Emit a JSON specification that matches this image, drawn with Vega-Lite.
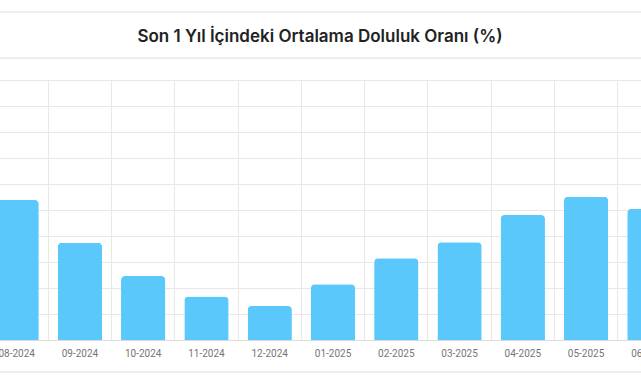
{
  "$schema": "https://vega.github.io/schema/vega-lite/v6.json",
  "width": 696,
  "height": 260,
  "autosize": "none",
  "padding": {"left": -15, "top": 80, "right": -40, "bottom": 40},
  "background": "#ffffff",
  "title": {
    "text": "Son 1 Yıl İçindeki Ortalama Doluluk Oranı (%)",
    "font": "Inter",
    "fontSize": 17,
    "fontWeight": 600,
    "color": "#222222",
    "anchor": "middle",
    "dx": -13,
    "baseline": "alphabetic",
    "offset": -48
  },
  "config": {
    "view": {"stroke": null},
    "axis": {"gridColor": "#e8e8e8", "gridWidth": 1}
  },
  "data": {
    "values": [
      {"month": "08-2024", "rate": 53.8},
      {"month": "09-2024", "rate": 37.4},
      {"month": "10-2024", "rate": 24.6},
      {"month": "11-2024", "rate": 16.7},
      {"month": "12-2024", "rate": 13.1},
      {"month": "01-2025", "rate": 21.4},
      {"month": "02-2025", "rate": 31.4},
      {"month": "03-2025", "rate": 37.6},
      {"month": "04-2025", "rate": 48.1},
      {"month": "05-2025", "rate": 55.1},
      {"month": "06-2025", "rate": 50.4}
    ]
  },
  "resolve": {"axis": {"y": "independent"}},
  "layer": [
    {
      "mark": {
        "type": "bar",
        "color": "#5AC8FA",
        "width": {"band": 0.7},
        "cornerRadiusTopLeft": 4,
        "cornerRadiusTopRight": 4
      },
      "encoding": {
        "x": {
          "field": "month",
          "type": "nominal",
          "sort": null,
          "scale": {"paddingInner": 0, "paddingOuter": 0},
          "axis": {
            "title": null,
            "labelAngle": 0,
            "labelFont": "Roboto",
            "labelFontSize": 10,
            "labelColor": "#757575",
            "labelPadding": 8,
            "ticks": false,
            "domainColor": "#dddddd",
            "grid": true,
            "bandPosition": 0
          }
        },
        "y": {
          "field": "rate",
          "type": "quantitative",
          "scale": {"domain": [0, 100]},
          "axis": {
            "title": null,
            "labels": false,
            "ticks": false,
            "domain": false,
            "grid": true,
            "values": [0, 10, 20, 30, 40, 50, 60, 70, 80, 90, 100]
          }
        }
      }
    },
    {
      "mark": {"type": "rule", "color": "#eeeeee", "strokeWidth": 1},
      "encoding": {"y": {"datum": 126.2, "type": "quantitative", "axis": null}}
    },
    {
      "mark": {"type": "rule", "color": "#eeeeee", "strokeWidth": 1},
      "encoding": {"y": {"datum": 108.5, "type": "quantitative", "axis": null}}
    },
    {
      "mark": {"type": "rule", "color": "#eeeeee", "strokeWidth": 1},
      "encoding": {"y": {"datum": -12.3, "type": "quantitative", "axis": null}}
    }
  ]
}
